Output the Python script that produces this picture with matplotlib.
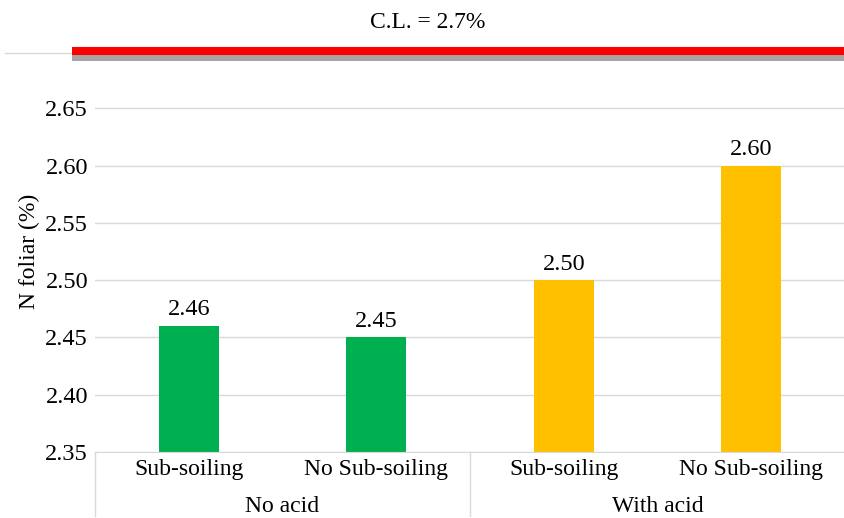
import matplotlib.pyplot as plt
import matplotlib.patheffects as pe
from matplotlib.transforms import blended_transform_factory

plt.rcParams["font.family"] = ["Liberation Serif", "DejaVu Serif"]

# datos
treatments = ["Sub-soiling", "No Sub-soiling", "Sub-soiling", "No Sub-soiling"]
groups = ["No acid", "With acid"]
n_foliar = [2.46, 2.45, 2.50, 2.60]
bar_colors = ["#00B050", "#00B050", "#FFC000", "#FFC000"]
critical_level = 2.70
y_ticks = [2.35, 2.40, 2.45, 2.50, 2.55, 2.60, 2.65]

fig = plt.figure(figsize=(8.45, 5.18), dpi=100)
ax = fig.add_axes([95 / 845, 66 / 518, 750 / 845, 401 / 518])

x = list(range(len(n_foliar)))
ax.bar(x, n_foliar, width=0.32, color=bar_colors, zorder=2)

for xi, v in zip(x, n_foliar):
    ax.annotate(f"{v:.2f}", (xi, v), xytext=(0, 4), textcoords="offset points",
                ha="center", va="bottom", fontsize=17.5)

ax.set_xlim(-0.5, len(n_foliar) - 0.5)
ax.set_ylim(2.35, critical_level)
ax.set_yticks(y_ticks)
ax.set_yticklabels([f"{t:.2f}" for t in y_ticks], fontsize=17.5)
ax.grid(axis="y", color="#D9D9D9", linewidth=1, zorder=0)
ax.set_ylabel("N foliar (%)", fontsize=17, labelpad=4)

ax.set_xticks(x)
ax.set_xticklabels(treatments, fontsize=17)
ax.tick_params(axis="both", length=0)
ax.tick_params(axis="x", pad=5)
ax.tick_params(axis="y", pad=5)

for side in ["top", "right", "left"]:
    ax.spines[side].set_visible(False)
ax.spines["bottom"].set_color("#D9D9D9")

# etiquetas de grupo y separadores
trans = blended_transform_factory(ax.transData, ax.transAxes)
for i, g in enumerate(groups):
    ax.text(2 * i + 0.5, -0.137, g, transform=trans, ha="center", va="center",
            fontsize=17)
for xs in [-0.5, 1.5, 3.5]:
    ax.plot([xs, xs], [0, -0.16], transform=trans, color="#D9D9D9",
            linewidth=1, clip_on=False)

# nivel crítico
ytr = blended_transform_factory(ax.transAxes, ax.transData)
ax.plot([-0.12, -0.03], [critical_level - 0.002] * 2, transform=ytr,
        color="#D9D9D9", linewidth=1, clip_on=False)
ax.plot([-0.03, 1.0], [critical_level, critical_level], transform=ytr,
        color="#FF0000", linewidth=5.8, solid_capstyle="butt", clip_on=False,
        zorder=5,
        path_effects=[pe.SimpleLineShadow(offset=(0, -4), shadow_color="#A6A6A6",
                                          alpha=1), pe.Normal()])
fig.text(428 / 845, 1 - 22 / 518, f"C.L. = {critical_level:.1f}%",
         ha="center", va="center", fontsize=17)

fig.savefig("out.png", dpi=100)
